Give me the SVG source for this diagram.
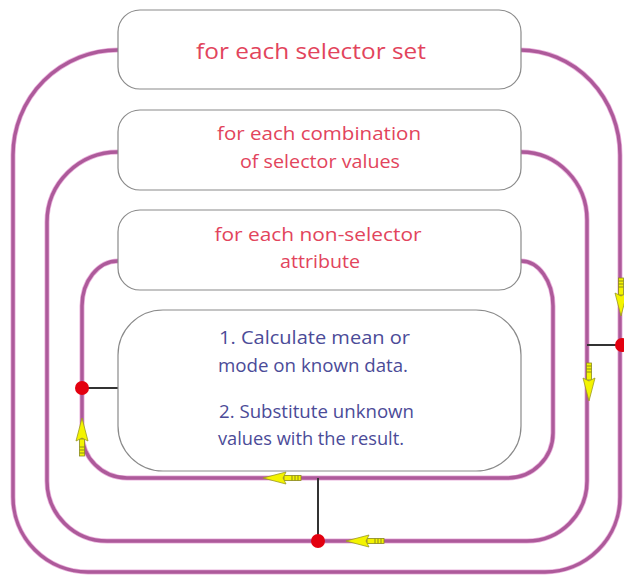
<svg xmlns="http://www.w3.org/2000/svg" width="624" height="575" viewBox="0 0 624 575">
<style>
.box{fill:#fff;stroke:#8a8a8a;stroke-width:1.2}
.loop{fill:none;stroke:#ad5a9a;stroke-width:3.4}
.loopHi{fill:none;stroke:#eab0dc;stroke-width:5}
.link{stroke:#333;stroke-width:2}
.dot{fill:#e3000f}
.t1{font-family:"Open Sans","Liberation Sans",sans-serif;fill:#e2445c;text-anchor:middle}
.t2{font-family:"Open Sans","Liberation Sans",sans-serif;fill:#4b4b98}
</style>
<defs>
<g id="arrow">
<rect x="-19" y="-2.5" width="17" height="5" fill="#f4f400" stroke="#8a8a20" stroke-width="0.8"/>
<path d="M-16,-2.5V2.5M-13,-2.5V2.5M-10,-2.5V2.5" stroke="#8a8a20" stroke-width="1"/>
<polygon points="-4,-6 19,0 -4,6 -1,0" fill="#f4f400" stroke="#9a9a20" stroke-width="0.8"/>
</g>
</defs>
<g id="connectors">
<path class="loopHi" d="M118,50 A105,105 0 0 0 13,155 L13,497 A75,75 0 0 0 88,572 L545,572 A75,75 0 0 0 620,497 L620,155 A100,105 0 0 0 520,50"/>
<path class="loop" d="M118,50 A105,105 0 0 0 13,155 L13,497 A75,75 0 0 0 88,572 L545,572 A75,75 0 0 0 620,497 L620,155 A100,105 0 0 0 520,50"/>
<path class="loopHi" d="M118,152 A71,70 0 0 0 47,222 L47,481 A60,60 0 0 0 107,541 L527,541 A60,60 0 0 0 587,481 L587,220 A66,68 0 0 0 521,152"/>
<path class="loop" d="M118,152 A71,70 0 0 0 47,222 L47,481 A60,60 0 0 0 107,541 L527,541 A60,60 0 0 0 587,481 L587,220 A66,68 0 0 0 521,152"/>
<path class="loopHi" d="M118,261 A36,45 0 0 0 82,306 L82,433 A45,45 0 0 0 127,478 L508,478 A45,45 0 0 0 553,433 L553,306 A32,45 0 0 0 521,261"/>
<path class="loop" d="M118,261 A36,45 0 0 0 82,306 L82,433 A45,45 0 0 0 127,478 L508,478 A45,45 0 0 0 553,433 L553,306 A32,45 0 0 0 521,261"/>
<line class="link" x1="82" y1="388" x2="118" y2="388"/>
<line class="link" x1="318" y1="478" x2="318" y2="541"/>
<line class="link" x1="587" y1="345" x2="620" y2="345"/>
<circle class="dot" cx="82" cy="388" r="7"/>
<circle class="dot" cx="318" cy="541" r="7"/>
<circle class="dot" cx="622" cy="345" r="7"/>
<use href="#arrow" transform="translate(153,389)"/>
<use href="#arrow" transform="translate(82,437) rotate(-90)"/>
<use href="#arrow" transform="translate(282,478) rotate(180)"/>
<use href="#arrow" transform="translate(365,541) rotate(180)"/>
<use href="#arrow" transform="translate(589,382) rotate(90)"/>
<use href="#arrow" transform="translate(621,297) rotate(90)"/>
</g>
<g id="node-selector-set">
<rect class="box" x="118" y="10" width="403" height="79" rx="22"/>
<text class="t1" x="311" y="59" font-size="22" textLength="230" lengthAdjust="spacingAndGlyphs">for each selector set</text>
</g>
<g id="node-combination">
<rect class="box" x="118" y="110" width="403" height="80" rx="22"/>
<text class="t1" x="319" y="140" font-size="18.5" textLength="204" lengthAdjust="spacingAndGlyphs">for each combination</text>
<text class="t1" x="320" y="168" font-size="18.5" textLength="160" lengthAdjust="spacingAndGlyphs">of selector values</text>
</g>
<g id="node-attribute">
<rect class="box" x="118" y="210" width="403" height="80" rx="22"/>
<text class="t1" x="318" y="241" font-size="18.5" textLength="207" lengthAdjust="spacingAndGlyphs">for each non-selector</text>
<text class="t1" x="320" y="268" font-size="18.5" textLength="80" lengthAdjust="spacingAndGlyphs">attribute</text>
</g>
<g id="node-steps">
<rect class="box" x="118" y="310" width="403" height="161" rx="45"/>
<text class="t2" x="219" y="344" font-size="17.5" textLength="191" lengthAdjust="spacingAndGlyphs">1. Calculate mean or</text>
<text class="t2" x="218" y="372" font-size="17.5" textLength="190" lengthAdjust="spacingAndGlyphs">mode on known data.</text>
<text class="t2" x="219" y="418" font-size="17.5" textLength="195" lengthAdjust="spacingAndGlyphs">2. Substitute unknown</text>
<text class="t2" x="218" y="445" font-size="17.5" textLength="186" lengthAdjust="spacingAndGlyphs">values with the result.</text>
</g>
</svg>
